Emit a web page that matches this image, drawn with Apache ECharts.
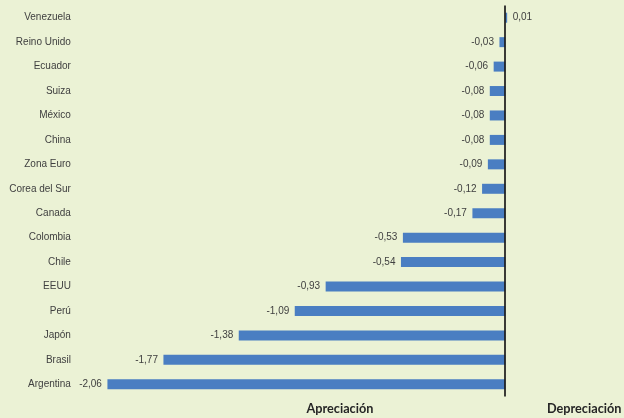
<!DOCTYPE html>
<html>
<head>
<meta charset="utf-8">
<script src="https://cdn.jsdelivr.net/npm/echarts@6/dist/echarts.min.js"></script>
<style>
html,body{margin:0;padding:0;background:#EBF2D5;}
#c{width:624px;height:418px;}
</style>
</head>
<body>
<div id="c"></div>
<script>
var categories = ["Venezuela","Reino Unido","Ecuador","Suiza","México","China","Zona Euro","Corea del Sur","Canada","Colombia","Chile","EEUU","Perú","Japón","Brasil","Argentina"];
var values = [0.01,-0.03,-0.06,-0.08,-0.08,-0.08,-0.09,-0.12,-0.17,-0.53,-0.54,-0.93,-1.09,-1.38,-1.77,-2.06];
var bottomLabels = ["Apreciación","Depreciación"];

var chart = echarts.init(document.getElementById('c'));
chart.setOption({
  backgroundColor: '#EBF2D5',
  animation: false,
  grid: {left: 80.4, right: 22.2, top: 5.5, height: 391, containLabel: false},
  xAxis: {
    type: 'value', min: -2.2, max: 0.5,
    axisLine: {show: false}, axisTick: {show: false}, axisLabel: {show: false}, splitLine: {show: false}
  },
  yAxis: {
    type: 'category', data: categories, inverse: true,
    axisLine: {show: false, onZero: false}, axisTick: {show: false},
    axisLabel: {margin: 9.5, fontFamily: 'Liberation Sans, Arial', fontSize: 10, color: '#404040'}
  },
  series: [{
    type: 'bar',
    barWidth: 10,
    itemStyle: {color: '#4A7EC2'},
    data: values.map(function (v) {
      return {value: v, label: {position: v >= 0 ? 'right' : 'left'}};
    }),
    label: {
      show: true, distance: 5.5,
      fontFamily: 'Liberation Sans, Arial', fontSize: 10, color: '#404040',
      formatter: function (p) { return p.value.toFixed(2).replace('.', ','); }
    },
    markLine: {
      silent: true, symbol: 'none', label: {show: false},
      lineStyle: {color: '#1a1a1a', width: 1.7, type: 'solid'},
      data: [{xAxis: 0}]
    }
  }],
  graphic: [
    {type: 'text', left: 306.5, top: 402.5, style: {text: bottomLabels[0], font: 'bold 12.7px Lato', fill: '#262626'}},
    {type: 'text', left: 547, top: 402.5, style: {text: bottomLabels[1], font: 'bold 12.7px Lato', fill: '#262626'}}
  ]
});
</script>
</body>
</html>
